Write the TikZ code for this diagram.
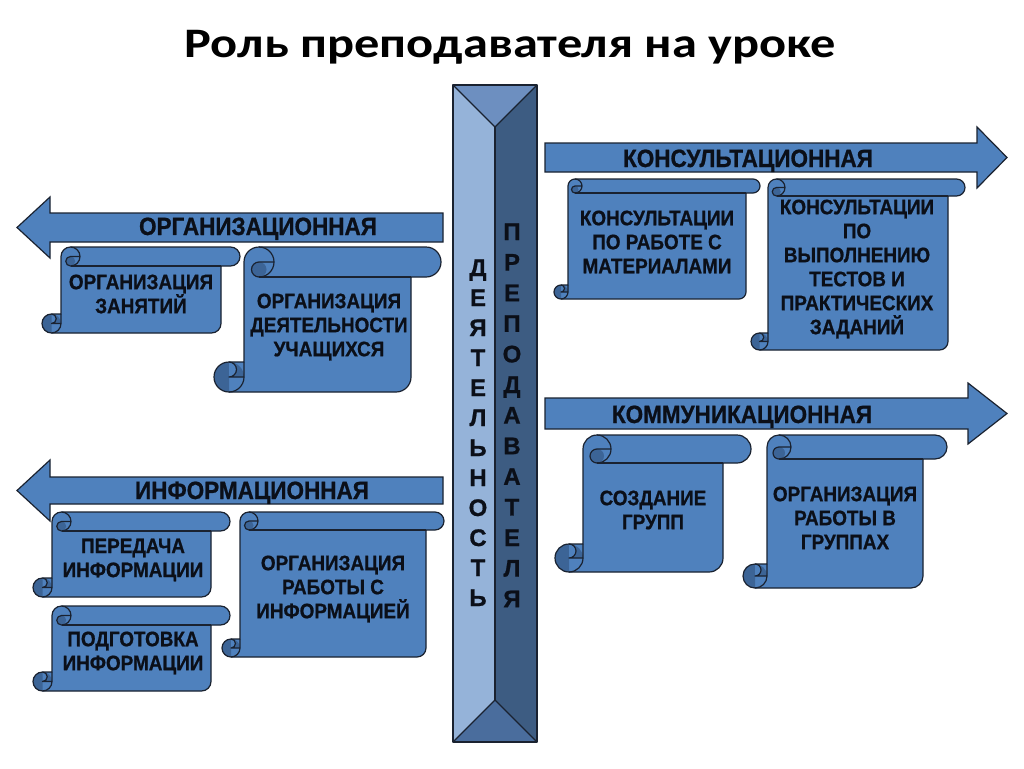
\documentclass[tikz,border=0pt]{standalone}
\usepackage{fontspec}
\setmainfont{Liberation Sans}
\newfontfamily\titlefont[FakeStretch=1.2]{Carlito}
\newfontfamily\boxfont[FakeStretch=0.9,FakeBold=0.8]{Liberation Sans}
\newfontfamily\colfont[FakeBold=0.8]{Liberation Sans}
\definecolor{base}{HTML}{4F81BD}
\definecolor{basedark}{HTML}{3C6496}
\definecolor{edge}{HTML}{1A2230}
\definecolor{pilL}{HTML}{95B3D9}
\definecolor{pilR}{HTML}{3D5C82}
\definecolor{pilT}{HTML}{6D8FC0}
\definecolor{pilB}{HTML}{4A6D9D}
\definecolor{ink}{HTML}{0B0F18}
% #1 L, #2 T, #3 R, #4 B, #5 c, #6 name, #7 text x, #8 text y, #9 text
\newcommand\myscroll[9]{%
 \pgfmathsetmacro\scrL{#1}\pgfmathsetmacro\scrT{#2}\pgfmathsetmacro\scrR{#3}\pgfmathsetmacro\scrB{#4}%
 \pgfmathsetmacro\scrH{#5/2}\pgfmathsetmacro\scrQ{#5/4}%
 \pgfmathsetmacro\scrXb{#1+#5}\pgfmathsetmacro\scrXc{#1+1.5*#5}\pgfmathsetmacro\scrXd{#1+2*#5}%
 \pgfmathsetmacro\scrXs{#3-#5}\pgfmathsetmacro\scrXv{#3-#5/2}%
 \pgfmathsetmacro\scrYt{#4-#5}\pgfmathsetmacro\scrYf{#4-#5/2}\pgfmathsetmacro\scrXl{#1+#5/2}%
 \pgfmathsetmacro\scrTh{#2+#5/2}\pgfmathsetmacro\scrTc{#2+#5}\pgfmathsetmacro\scrTq{#2+0.75*#5}%
 \path[fill=base] (\scrXb,\scrYt) -- (\scrXb,\scrTh) arc[start angle=180,end angle=270,radius=\scrH]
   -- (\scrXv,\scrT) arc[start angle=270,end angle=450,radius=\scrH] -- (\scrXs,\scrTc)
   -- (\scrXs,\scrYf) arc[start angle=0,end angle=90,radius=\scrH] -- (\scrXl,\scrB)
   arc[start angle=90,end angle=270,radius=\scrH] -- cycle;
 \fill[basedark] (\scrXc,\scrTq) circle[radius=\scrQ];
 \fill[basedark] (\scrXl,\scrYf) -- (\scrXb,\scrYf) arc[start angle=0,end angle=-270,radius=\scrH] -- cycle;
 \fill[base] (\scrXl,\scrYt) arc[start angle=270,end angle=450,radius=\scrQ] -- cycle;
 \draw[outl] (\scrXb,\scrYt) -- (\scrXb,\scrTh) arc[start angle=180,end angle=270,radius=\scrH]
   -- (\scrXv,\scrT) arc[start angle=270,end angle=450,radius=\scrH] -- (\scrXs,\scrTc)
   -- (\scrXs,\scrYf) arc[start angle=0,end angle=90,radius=\scrH] -- (\scrXl,\scrB)
   arc[start angle=90,end angle=270,radius=\scrH] -- cycle;
 \draw[outl] (\scrXc,\scrT) arc[start angle=270,end angle=450,radius=\scrH]
   arc[start angle=90,end angle=270,radius=\scrQ] -- (\scrXd,\scrTh);
 \draw[outl] (\scrXs,\scrTc) -- (\scrXc,\scrTc);
 \draw[outl] (\scrXl,\scrYt) arc[start angle=270,end angle=450,radius=\scrQ] -- (\scrXb,\scrYf);
 \draw[outl] (\scrXl,\scrB) arc[start angle=90,end angle=0,radius=\scrH] -- (\scrXb,\scrYt);
 \node[boxtext] (#6) at (#7,#8) {#9};
}
\begin{document}
\begin{tikzpicture}[x=1pt,y=-1pt,
  outl/.style={draw=edge,line width=1.2pt,line join=round},
  boxtext/.style={font={\boxfont\bfseries\fontsize{21}{24}\selectfont}, text=ink, align=center, inner sep=0pt},
  arrowtext/.style={font={\boxfont\bfseries\fontsize{25}{28}\selectfont}, text=ink, inner sep=0pt, anchor=base},
  coltext/.style={font={\colfont\bfseries\fontsize{24}{30}\selectfont}, text=ink, inner sep=0pt, anchor=base},
  arrowshape/.style={fill=base, draw=edge, line width=1.2pt, line join=miter}
]
\useasboundingbox (0,0) rectangle (1024,768);
\fill[white] (0,0) rectangle (1024,768);

% title
\node[font={\titlefont\bfseries\fontsize{42}{48}\selectfont}, anchor=base, inner sep=0pt] (title) at (510,57) {Роль преподавателя на уроке};

% arrows
\draw[arrowshape] (545,143) -- (977,143) -- (977,127) -- (1007,157.5) -- (977,188) -- (977,172) -- (545,172) -- cycle;
\draw[arrowshape] (443,213) -- (50,213) -- (50,197) -- (17,227.5) -- (50,258) -- (50,242) -- (443,242) -- cycle;
\draw[arrowshape] (443,477) -- (50,477) -- (50,460) -- (17,490.5) -- (50,521) -- (50,504) -- (443,504) -- cycle;
\draw[arrowshape] (545,398) -- (968,398) -- (968,383) -- (1007,413.5) -- (968,444) -- (968,429) -- (545,429) -- cycle;
\node[arrowtext] (konsult) at (748,167) {КОНСУЛЬТАЦИОННАЯ};
\node[arrowtext] (organiz) at (258,235) {ОРГАНИЗАЦИОННАЯ};
\node[arrowtext] (inform) at (252,499) {ИНФОРМАЦИОННАЯ};
\node[arrowtext] (kommun) at (742,423) {КОММУНИКАЦИОННАЯ};

% scrolls
\myscroll{42}{247}{240}{333}{19}{s1}{141}{294}{ОРГАНИЗАЦИЯ\\ЗАНЯТИЙ}
\myscroll{214}{247}{441}{392}{30}{s2}{329}{327}{ОРГАНИЗАЦИЯ\\ДЕЯТЕЛЬНОСТИ\\УЧАЩИХСЯ}
\myscroll{33}{512}{230}{597}{19}{s3}{133}{560}{ПЕРЕДАЧА\\ИНФОРМАЦИИ}
\myscroll{33}{606}{230}{691}{19}{s4}{133}{653}{ПОДГОТОВКА\\ИНФОРМАЦИИ}
\myscroll{222}{512}{444}{657}{18}{s5}{333}{589}{ОРГАНИЗАЦИЯ\\РАБОТЫ С\\ИНФОРМАЦИЕЙ}
\myscroll{554}{179}{760}{299}{14}{s6}{657}{242}{КОНСУЛЬТАЦИИ\\ПО РАБОТЕ С\\МАТЕРИАЛАМИ}
\myscroll{751}{179}{965}{350}{17}{s7}{857}{269}{КОНСУЛЬТАЦИИ\\ПО\\ВЫПОЛНЕНИЮ\\ТЕСТОВ И\\ПРАКТИЧЕСКИХ\\ЗАДАНИЙ}
\myscroll{555}{435}{751}{572}{28}{s8}{653}{510}{СОЗДАНИЕ\\ГРУПП}
\myscroll{743}{435}{947}{588}{24}{s9}{845}{518}{ОРГАНИЗАЦИЯ\\РАБОТЫ В\\ГРУППАХ}

% pillar
\fill[pilL] (453,85) -- (495,127) -- (495,700) -- (453,742) -- cycle;
\fill[pilR] (537,85) -- (495,127) -- (495,700) -- (537,742) -- cycle;
\fill[pilT] (453,85) -- (537,85) -- (495,127) -- cycle;
\fill[pilB] (453,742) -- (537,742) -- (495,700) -- cycle;
\draw[outl] (453,85) rectangle (537,742);
\draw[outl] (453,85) -- (495,127) -- (537,85);
\draw[outl] (453,742) -- (495,700) -- (537,742);
\draw[outl] (495,127) -- (495,700);
\foreach \ch [count=\i] in {Д,Е,Я,Т,Е,Л,Ь,Н,О,С,Т,Ь}
  \node[coltext] (dl\i) at (478,{276+30*(\i-1)}) {\ch};
\foreach \ch [count=\i] in {П,Р,Е,П,О,Д,А,В,А,Т,Е,Л,Я}
  \node[coltext] (pr\i) at (512,{240+30.6*(\i-1)}) {\ch};
\end{tikzpicture}
\end{document}
